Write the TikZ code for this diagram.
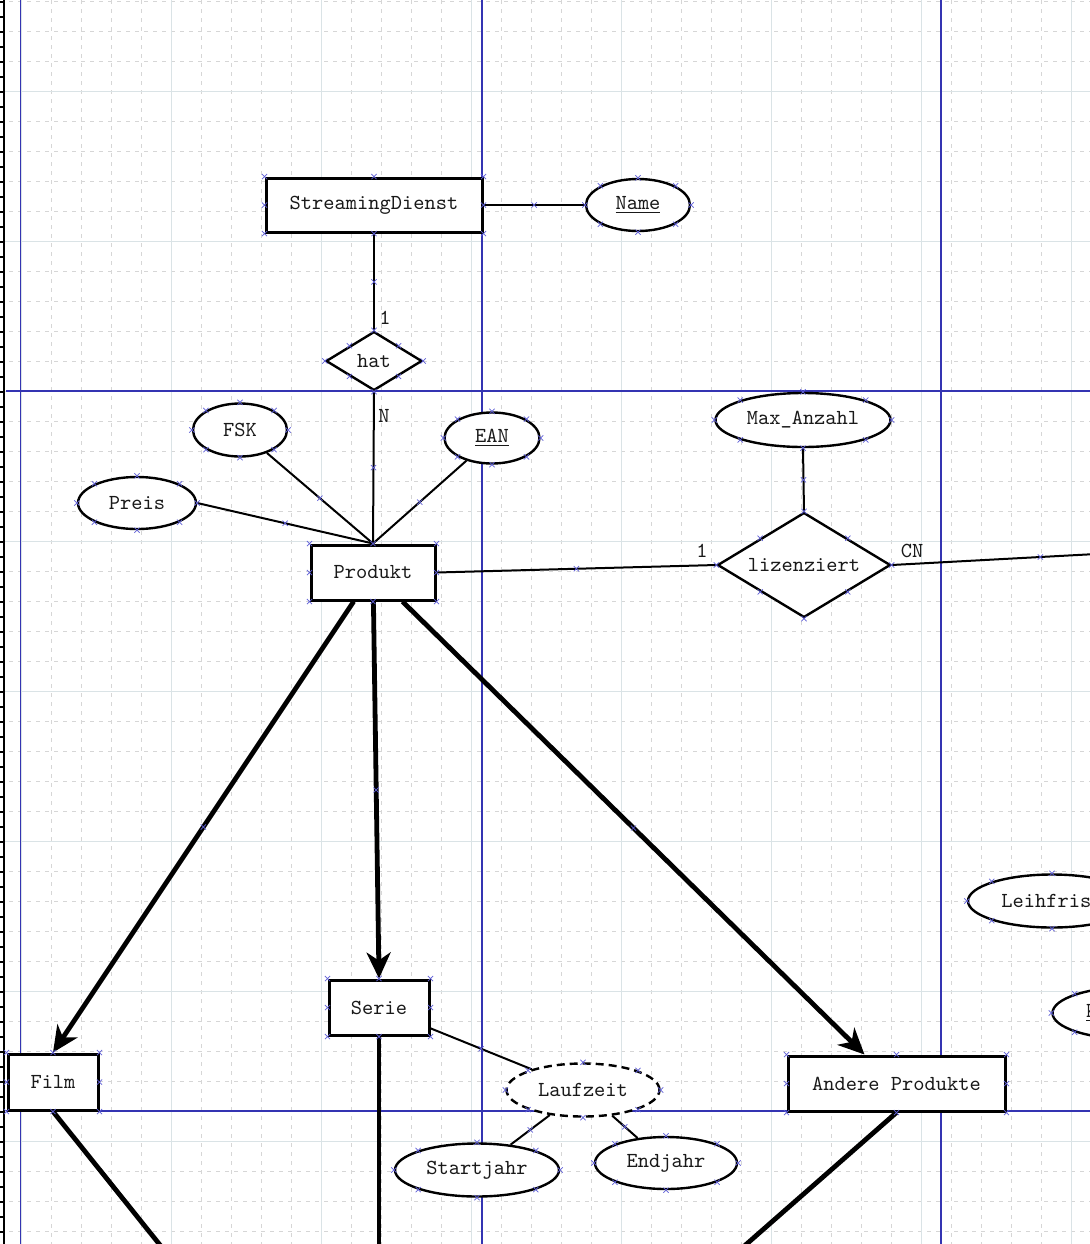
\documentclass[tikz,border=0pt]{standalone}
\usepackage{fontspec}
\usetikzlibrary{shapes.geometric,arrows.meta,calc}

\definecolor{pageblue}{RGB}{52,52,178}
\definecolor{markblue}{RGB}{95,95,215}
\definecolor{griddash}{RGB}{214,214,214}
\definecolor{gridline}{RGB}{218,227,230}
\definecolor{textgray}{RGB}{25,25,25}

\tikzset{
  entity/.style={draw, rectangle, line width=1.5pt, fill=white, inner sep=0pt},
  attr/.style={draw, ellipse, line width=1.2pt, fill=white, inner sep=0pt},
  weakattr/.style={attr, dash pattern=on 4pt off 2.5pt},
  rel/.style={draw, diamond, line width=1.2pt, fill=white, inner sep=0pt},
  card/.style={inner sep=0pt},
  conn/.style={line width=1pt},
  heavy/.style={line width=2.4pt},
  isa/.style={heavy, -{Stealth[length=13pt,width=12pt,inset=4pt]}},
  gridd/.style={draw=griddash, line width=0.5pt, dash pattern=on 2pt off 2.5pt},
  gridl/.style={draw=gridline, line width=0.5pt},
  page/.style={draw=pageblue, line width=0.75pt},
  xm/.pic={\draw[markblue, line width=0.35pt, solid, -] (-1.3pt,-1.3pt) -- (1.3pt,1.3pt) (-1.3pt,1.3pt) -- (1.3pt,-1.3pt);}
}

\begin{document}
\begin{tikzpicture}[x=0.5pt, y=-0.5pt, font=\ttfamily\fontsize{10.7}{12}\selectfont, text=textgray]
\useasboundingbox (0,0) rectangle (1090,1244);
\clip (0,0) rectangle (1090,1244);
\fill[white] (0,0) rectangle (1090,1244);

% raster
\foreach \x in {21,51,...,1090} \draw[gridd] (\x,0) -- (\x,1244);
\foreach \y in {1,31,...,1244} \draw[gridd] (0,\y) -- (1090,\y);
\foreach \x in {21,171,...,1090} \draw[gridl] (\x,0) -- (\x,1244);
\foreach \y in {91,241,...,1244} \draw[gridl] (0,\y) -- (1090,\y);

% page borders
\foreach \x in {20.5,482,941} \draw[page] (\x,0) -- (\x,1244);
\foreach \y in {391,1111} \draw[page] (6,\y) -- (1090,\y);

% ruler
\draw[line width=1.2pt] (4,0) -- (4,1244);
\foreach \y in {2,17,...,1244} \draw[line width=1pt] (0,\y) -- (4,\y);

% entities, attributes, relations
\node[entity, minimum width=108pt, minimum height=27pt] (SD) at (374,205) {StreamingDienst};
\node[attr, minimum width=52pt, minimum height=26pt] (Name) at (638,205) {\underline{Name}};
\node[rel, minimum width=48pt, minimum height=29.5pt, shape aspect=1.6] (hat) at (374,361) {hat};
\node[entity, minimum width=62pt, minimum height=27.5pt] (Produkt) at (373,572.5) {Produkt};
\node[attr, minimum width=47pt, minimum height=26.5pt] (FSK) at (240,430) {FSK};
\node[attr, minimum width=47.5pt, minimum height=25.5pt] (EAN) at (492,438) {\underline{EAN}};
\node[attr, minimum width=59pt, minimum height=26pt] (Preis) at (137,503) {Preis};
\node[attr, minimum width=87.5pt, minimum height=27pt] (MaxAnzahl) at (803,420) {Max\_Anzahl};
\node[rel, minimum width=86.5pt, minimum height=52.5pt, shape aspect=1.65] (lizenziert) at (804,565) {lizenziert};
\node[entity, minimum width=45pt, minimum height=28pt] (Film) at (53,1082) {Film};
\node[entity, minimum width=50pt, minimum height=27.5pt] (Serie) at (379,1007.5) {Serie};
\node[entity, minimum width=108.5pt, minimum height=27.5pt] (Andere) at (896.5,1083.5) {Andere Produkte};
\node[weakattr, minimum width=76.5pt, minimum height=26.5pt] (Laufzeit) at (583,1090) {Laufzeit};
\node[attr, minimum width=82pt, minimum height=26.5pt] (Startjahr) at (477,1170) {Startjahr};
\node[attr, minimum width=71pt, minimum height=26pt] (Endjahr) at (666,1163) {Endjahr};
\node[attr, minimum width=84pt, minimum height=26.5pt] (Leihfrist) at (1052,901) {Leihfrist};
\node[attr, minimum width=78.5pt, minimum height=26pt] (KundenNr) at (1131,1013) {\underline{KundenNr}};

% free ends
\coordinate (kundeIn) at (1189,549);
\coordinate (andereIn) at ($(Andere.north)+(-32,0)$);
\coordinate (filmOut) at (261,1371);
\coordinate (serieOut) at (379,1400);
\coordinate (andereOut) at (595,1377);

% connectors
\draw[conn] (SD.east) -- pic{xm} (Name.west);
\draw[conn] (SD.south) -- pic{xm} (hat.north);
\draw[conn] (hat.south) -- pic{xm} (Produkt.north);
\draw[conn] (FSK) -- pic{xm} (Produkt.north);
\draw[conn] (EAN) -- pic{xm} (Produkt.north);
\draw[conn] (Preis.east) -- pic{xm} (Produkt.north);
\draw[conn] (MaxAnzahl.south) -- pic{xm} (lizenziert.north);
\draw[conn] (Produkt.east) -- pic{xm} (lizenziert.west);
\draw[conn] (lizenziert.east) -- pic{xm} (kundeIn);
\draw[isa] (Produkt) -- pic{xm} (Film.north);
\draw[isa] (Produkt) -- pic{xm} (Serie.north);
\draw[isa] (Produkt) -- pic{xm} (andereIn);
\draw[conn] (Serie) -- pic{xm} (Laufzeit);
\draw[conn] (Laufzeit) -- pic{xm} (Startjahr);
\draw[conn] (Laufzeit) -- pic{xm} (Endjahr);
\draw[heavy] (Film.south) -- (filmOut);
\draw[heavy] (Serie.south) -- (serieOut);
\draw[heavy] (Andere.south) -- (andereOut);

% cardinalities
\node[card] (cardHatTop) at (385,318) {1};
\node[card] (cardHatBot) at (384,416) {N};
\node[card] (cardLizL) at (702,551) {1};
\node[card] (cardLizR) at (912,551) {CN};

% anchor marks
\foreach \n in {SD,Name,hat,Produkt,FSK,EAN,Preis,MaxAnzahl,lizenziert,Film,Serie,Andere,Laufzeit,Startjahr,Endjahr,Leihfrist,KundenNr}
  \foreach \a in {north,north east,east,south east,south,south west,west,north west}
    \pic at (\n.\a) {xm};
\end{tikzpicture}
\end{document}
